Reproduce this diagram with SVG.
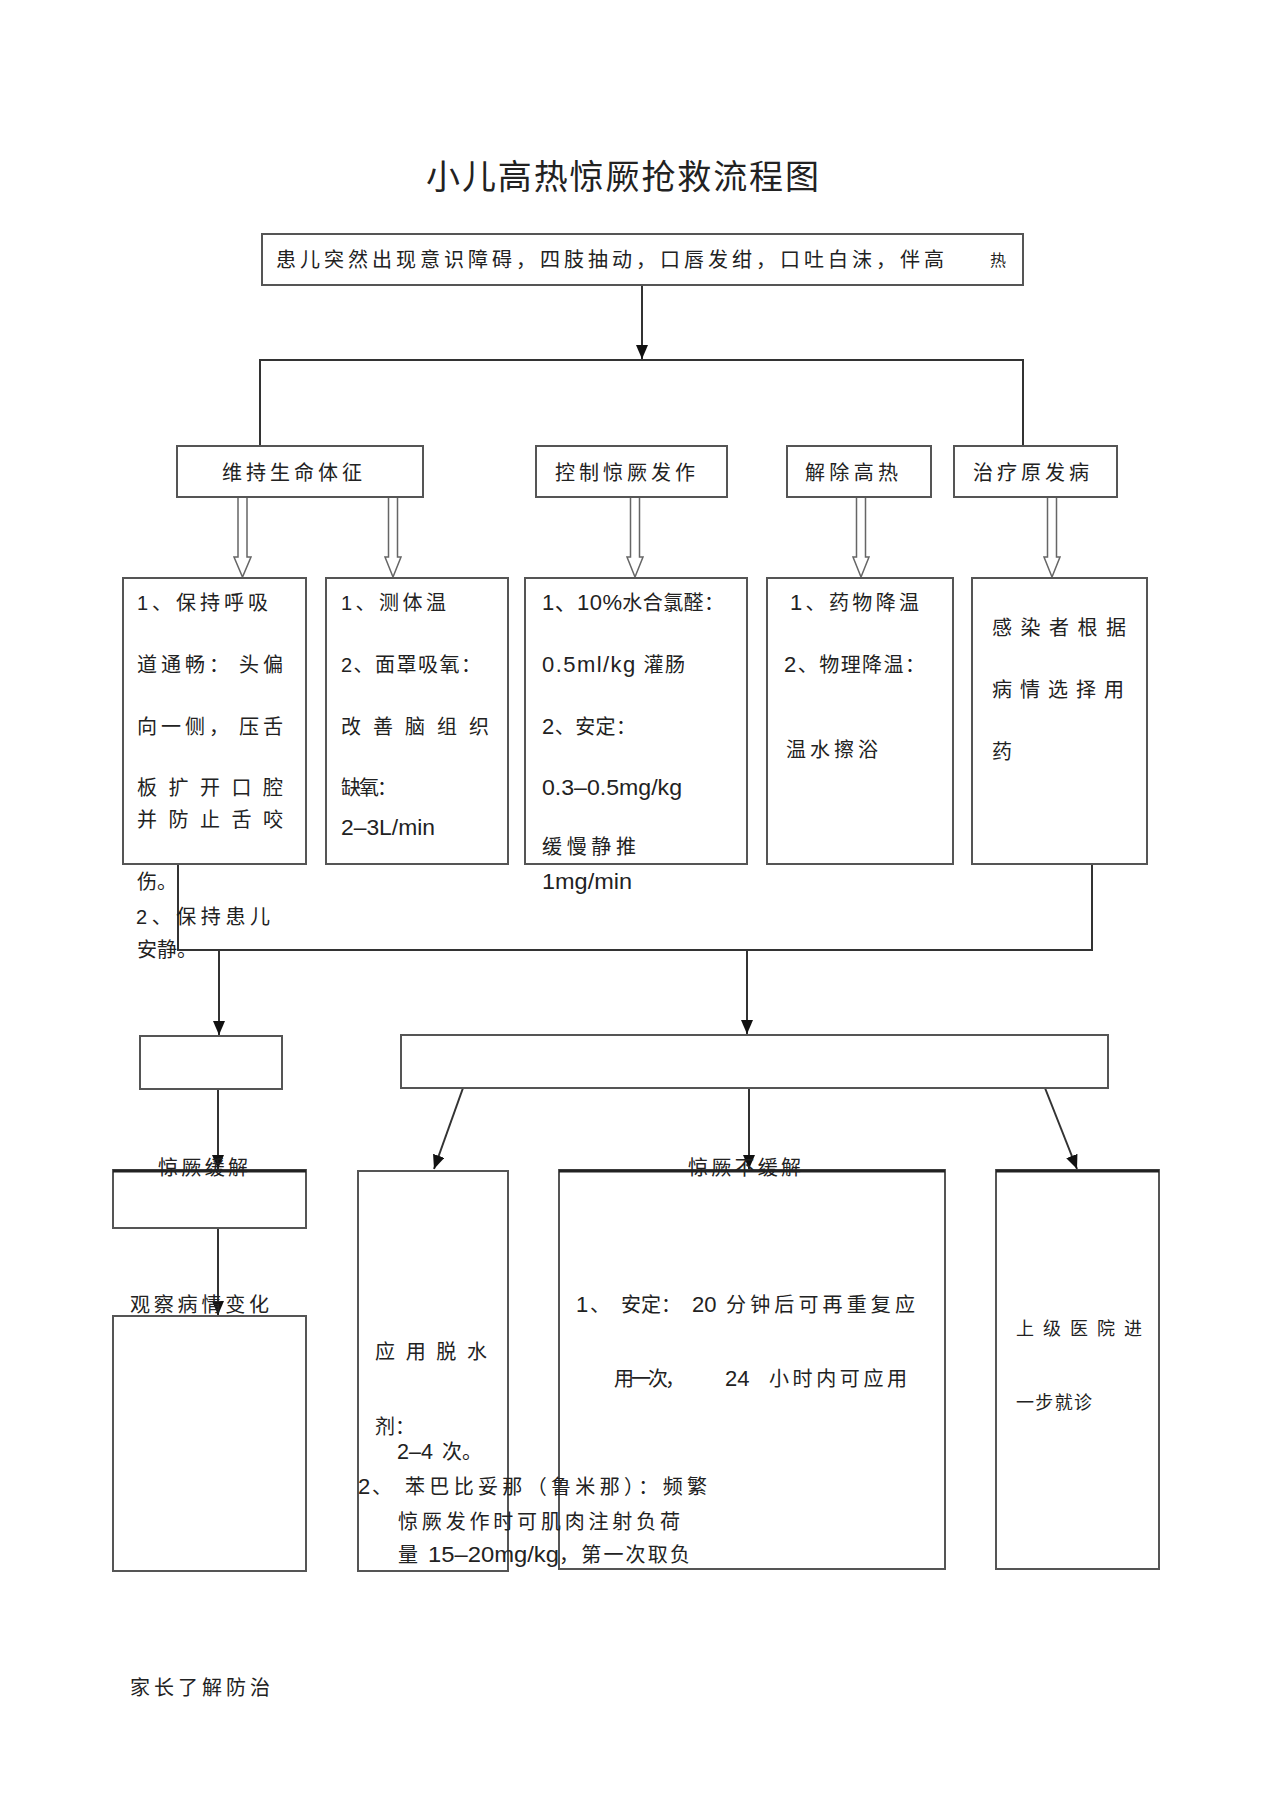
<svg xmlns="http://www.w3.org/2000/svg" width="1274" height="1804" viewBox="0 0 1274 1804">
<style>
text{font-family:"Liberation Sans","Noto Sans CJK SC",sans-serif;fill:#222;}
.t{font-size:20px;}
.n{font-size:22px;}
.s{font-size:18px;}
.box{fill:#fff;stroke:#555;stroke-width:2;}
.ln{fill:none;stroke:#333;stroke-width:2;}
.ha{fill:#fff;stroke:#666;stroke-width:1.5;}
</style>
<defs>
<marker id="ar" markerUnits="userSpaceOnUse" markerWidth="12" markerHeight="14" viewBox="0 0 12 14" refX="6" refY="14" orient="auto-start-reverse">
<path d="M0,0 L12,0 L6,14 Z" fill="#111" transform="rotate(0)"/>
</marker>
<marker id="ad" markerUnits="userSpaceOnUse" markerWidth="14" markerHeight="12" viewBox="0 0 14 12" refX="14" refY="6" orient="auto">
<path d="M0,0 L14,6 L0,12 Z" fill="#111"/>
</marker>
</defs>
<rect width="1274" height="1804" fill="#fff"/>

<text id="title" x="426" y="189" style="font-size:34px" textLength="393" lengthAdjust="spacing">小儿高热惊厥抢救流程图</text>

<g id="connectors">
<line class="ln" x1="642" y1="285" x2="642" y2="359" marker-end="url(#ad)"/>
<polyline class="ln" points="260,447 260,360 1023,360 1023,447"/>
<path class="ha" d="M238,497 V557 H234 L242.5,577 L251,557 H247 V497"/>
<path class="ha" d="M388.5,497 V557 H385 L393,577 L401,557 H397.5 V497"/>
<path class="ha" d="M630.5,497 V557 H627 L635,577 L643,557 H639.5 V497"/>
<path class="ha" d="M856.5,497 V557 H853 L861,577 L869,557 H865.5 V497"/>
<path class="ha" d="M1047.5,497 V557 H1044 L1052,577 L1060,557 H1056.5 V497"/>
<polyline class="ln" points="178,864 178,950 1092,950 1092,864"/>
<line class="ln" x1="219" y1="950" x2="219" y2="1035" marker-end="url(#ad)"/>
<line class="ln" x1="747" y1="950" x2="747" y2="1034" marker-end="url(#ad)"/>
<line class="ln" x1="218" y1="1089" x2="218" y2="1169" marker-end="url(#ad)"/>
<line class="ln" x1="218" y1="1228" x2="218" y2="1315" marker-end="url(#ad)"/>
<line class="ln" x1="463" y1="1088" x2="434" y2="1169" marker-end="url(#ad)"/>
<line class="ln" x1="749" y1="1088" x2="749" y2="1169" marker-end="url(#ad)"/>
<line class="ln" x1="1045" y1="1088" x2="1077" y2="1169" marker-end="url(#ad)"/>
</g>

<g id="n-top">
<rect class="box" x="262" y="234" width="761" height="51"/>
<text class="t" x="276" y="267" textLength="668" lengthAdjust="spacing">患儿突然出现意识障碍，四肢抽动，口唇发绀，口吐白沫，伴高</text>
<text x="990" y="266" style="font-size:16px">热</text>
</g>

<g id="n-vital">
<rect class="box" x="177" y="446" width="246" height="51"/>
<text class="t" x="222" y="480" textLength="140" lengthAdjust="spacing">维持生命体征</text>
</g>
<g id="n-control">
<rect class="box" x="536" y="446" width="191" height="51"/>
<text class="t" x="555" y="480" textLength="140" lengthAdjust="spacing">控制惊厥发作</text>
</g>
<g id="n-fever">
<rect class="box" x="787" y="446" width="144" height="51"/>
<text class="t" x="805" y="480" textLength="93" lengthAdjust="spacing">解除高热</text>
</g>
<g id="n-cause">
<rect class="box" x="954" y="446" width="163" height="51"/>
<text class="t" x="973" y="480" textLength="116" lengthAdjust="spacing">治疗原发病</text>
</g>

<g id="n-airway">
<rect class="box" x="123" y="578" width="183" height="286"/>
<text class="t" x="137" y="610" textLength="131" lengthAdjust="spacing">1、保持呼吸</text>
<text class="t" x="137" y="672" textLength="92" lengthAdjust="spacing">道通畅：</text>
<text class="t" x="239" y="672" textLength="44" lengthAdjust="spacing">头偏</text>
<text class="t" x="137" y="734" textLength="92" lengthAdjust="spacing">向一侧，</text>
<text class="t" x="239" y="734" textLength="44" lengthAdjust="spacing">压舌</text>
<text class="t" x="137" y="795" textLength="146" lengthAdjust="spacing">板扩开口腔</text>
<text class="t" x="137" y="827" textLength="146" lengthAdjust="spacing">并防止舌咬</text>
<text class="t" x="137" y="889">伤。</text>
<text class="t" x="136" y="924" textLength="134" lengthAdjust="spacing">2、保持患儿</text>
<text class="t" x="137" y="957" textLength="60" lengthAdjust="spacing">安静。</text>
</g>

<g id="n-oxygen">
<rect class="box" x="326" y="578" width="182" height="286"/>
<text class="t" x="341" y="610" textLength="105" lengthAdjust="spacing">1、测体温</text>
<text class="t" x="341" y="672" textLength="140" lengthAdjust="spacing">2、面罩吸氧：</text>
<text class="t" x="341" y="734" textLength="148" lengthAdjust="spacing">改善脑组织</text>
<text class="t" x="341" y="795" textLength="56" lengthAdjust="spacing">缺氧：</text>
<text class="n" x="341" y="835" textLength="94" lengthAdjust="spacingAndGlyphs">2–3L/min</text>
</g>

<g id="n-drug">
<rect class="box" x="525" y="578" width="222" height="286"/>
<text class="t" x="542" y="610" textLength="182" lengthAdjust="spacing"><tspan class="n">1、10%</tspan>水合氯醛：</text>
<text class="t" x="542" y="672" textLength="143" lengthAdjust="spacing"><tspan class="n">0.5ml/kg</tspan> 灌肠</text>
<text class="t" x="542" y="734" textLength="94" lengthAdjust="spacing"><tspan class="n">2</tspan>、安定：</text>
<text class="n" x="542" y="795" textLength="140" lengthAdjust="spacingAndGlyphs">0.3–0.5mg/kg</text>
<text class="t" x="542" y="854" textLength="94" lengthAdjust="spacing">缓慢静推</text>
<text class="n" x="542" y="889" textLength="90" lengthAdjust="spacingAndGlyphs">1mg/min</text>
</g>

<g id="n-cool">
<rect class="box" x="767" y="578" width="186" height="286"/>
<text class="t" x="790" y="610" textLength="129" lengthAdjust="spacing"><tspan class="n">1</tspan>、药物降温</text>
<text class="t" x="784" y="672" textLength="141" lengthAdjust="spacing"><tspan class="n">2</tspan>、物理降温：</text>
<text class="t" x="786" y="757" textLength="92" lengthAdjust="spacing">温水擦浴</text>
</g>

<g id="n-infect">
<rect class="box" x="972" y="578" width="175" height="286"/>
<text class="t" x="992" y="635" textLength="134" lengthAdjust="spacing">感染者根据</text>
<text class="t" x="992" y="697" textLength="132" lengthAdjust="spacing">病情选择用</text>
<text class="t" x="992" y="759">药</text>
</g>

<g id="n-left">
<rect class="box" x="140" y="1036" width="142" height="53"/>
</g>
<g id="n-wide">
<rect class="box" x="401" y="1035" width="707" height="53"/>
</g>

<g id="n-relief">
<rect class="box" x="113" y="1170" width="193" height="58"/>
<line x1="113" y1="1171" x2="306" y2="1171" stroke="#222" stroke-width="3"/>
<text class="t" x="158" y="1175" textLength="90" lengthAdjust="spacing">惊厥缓解</text>
</g>

<g id="n-observe">
<rect class="box" x="113" y="1316" width="193" height="255"/>
<text class="t" x="130" y="1312" textLength="139" lengthAdjust="spacing">观察病情变化</text>
</g>

<g id="n-dehyd">
<rect class="box" x="358" y="1171" width="150" height="400"/>
<text class="t" x="375" y="1359" textLength="112" lengthAdjust="spacing">应用脱水</text>
<text class="t" x="375" y="1434">剂：</text>
<text class="n" x="397" y="1459" textLength="36" lengthAdjust="spacingAndGlyphs">2–4</text>
<text class="t" x="442" y="1459">次。</text>
</g>

<g id="n-norelief">
<rect class="box" x="559" y="1170" width="386" height="399"/>
<line x1="559" y1="1171" x2="945" y2="1171" stroke="#222" stroke-width="3"/>
<text class="t" x="688" y="1175" textLength="113" lengthAdjust="spacing">惊厥不缓解</text>
<text class="n" x="576" y="1312">1</text>
<text class="t" x="590" y="1312">、</text>
<text class="t" x="621" y="1312" textLength="60" lengthAdjust="spacing">安定：</text>
<text class="n" x="692" y="1312">20</text>
<text class="t" x="726" y="1312" textLength="189" lengthAdjust="spacing">分钟后可再重复应</text>
<text class="t" x="614" y="1386" textLength="71" lengthAdjust="spacing">用一次，</text>
<text class="n" x="725" y="1386">24</text>
<text class="t" x="769" y="1386" textLength="138" lengthAdjust="spacing">小时内可应用</text>
</g>

<g id="n-phenobarb">
<text class="n" x="358" y="1494">2</text>
<text class="t" x="372" y="1494">、</text>
<text class="t" x="405" y="1494" textLength="302" lengthAdjust="spacing">苯巴比妥那（鲁米那）：频繁</text>
<text class="t" x="398" y="1529" textLength="282" lengthAdjust="spacing">惊厥发作时可肌肉注射负荷</text>
<text class="t" x="398" y="1562">量</text>
<text class="n" x="428" y="1562" textLength="131" lengthAdjust="spacingAndGlyphs">15–20mg/kg</text>
<text class="t" x="559" y="1562" textLength="131" lengthAdjust="spacing">，第一次取负</text>
</g>

<g id="n-referral">
<rect class="box" x="996" y="1170" width="163" height="399"/>
<line x1="996" y1="1171" x2="1159" y2="1171" stroke="#222" stroke-width="3"/>
<text class="s" x="1016" y="1335" textLength="126" lengthAdjust="spacing">上级医院进</text>
<text class="s" x="1016" y="1409" textLength="76" lengthAdjust="spacing">一步就诊</text>
</g>

<g id="n-parents">
<text class="t" x="130" y="1695" textLength="140" lengthAdjust="spacing">家长了解防治</text>
</g>
</svg>
